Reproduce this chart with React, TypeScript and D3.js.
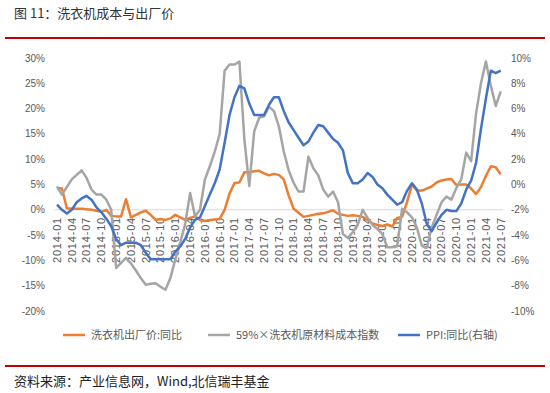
import React from "react";
import * as d3 from "d3";

const months: string[] = [
  "2014-01","2014-02","2014-03","2014-04","2014-05","2014-06","2014-07","2014-08","2014-09","2014-10","2014-11","2014-12",
  "2015-01","2015-02","2015-03","2015-04","2015-05","2015-06","2015-07","2015-08","2015-09","2015-10","2015-11","2015-12",
  "2016-01","2016-02","2016-03","2016-04","2016-05","2016-06","2016-07","2016-08","2016-09","2016-10","2016-11","2016-12",
  "2017-01","2017-02","2017-03","2017-04","2017-05","2017-06","2017-07","2017-08","2017-09","2017-10","2017-11","2017-12",
  "2018-01","2018-02","2018-03","2018-04","2018-05","2018-06","2018-07","2018-08","2018-09","2018-10","2018-11","2018-12",
  "2019-01","2019-02","2019-03","2019-04","2019-05","2019-06","2019-07","2019-08","2019-09","2019-10","2019-11","2019-12",
  "2020-01","2020-02","2020-03","2020-04","2020-05","2020-06","2020-07","2020-08","2020-09","2020-10","2020-11","2020-12",
  "2021-01","2021-02","2021-03","2021-04","2021-05","2021-06","2021-07"
];

// 洗衣机出厂价:同比 (left axis, %)
const washerPrice: number[] = [
  4.3, 4.2, 0.3, 0.2, 0.2, 0.2, 0.1, 0.0, -0.2, -0.4, 0.0, -1.2,
  -1.3, -1.3, 2.1, -1.5, -1.0, -0.5, -0.2, -1.0, -2.0, -1.8, -2.0, -1.7,
  -1.0, -1.5, -2.0, -1.6, -1.3, -2.0, -2.2, -2.0, -1.9, -1.8, 0.0, 3.2,
  5.3, 5.4, 7.4, 7.4, 7.6, 7.7, 7.2, 6.8, 7.1, 6.9, 6.0, 2.8,
  0.2, -0.6, -1.4, -1.2, -1.0, -0.8, -0.7, -0.4, -0.1, -0.8, -1.0, -1.2,
  -1.1, -1.2, -1.4, -2.0, -2.7, -3.0, -3.2, -2.9, -3.3, -1.6, -1.4, 1.5,
  5.0, 3.8, 3.8, 4.2, 4.6, 5.4, 5.8, 6.0, 6.1, 4.9, 5.0, 5.0,
  4.2, 3.1, 4.5, 6.7, 8.6, 8.4, 7.0
];

// 59%×洗衣机原材料成本指数 (left axis, %)
const rawCost: number[] = [
  4.6, 3.0, 4.5, 6.0, 6.9, 7.8, 6.3, 4.0, 3.0, 3.0, 2.0, 0.0,
  -11.5, -10.5, -9.5, -10.6, -12.0, -13.5, -14.8, -14.6, -14.5, -15.2, -15.8, -13.5,
  -9.8, -6.5, -2.8, 3.3, -1.3, 0.0, 6.0, 8.6, 11.5, 15.0, 27.5, 28.7,
  28.7, 29.3, 14.0, 4.7, 15.5, 18.2, 18.5, 20.4, 19.5, 16.5, 11.5, 7.8,
  5.3, 3.6, 3.6, 10.5, 8.2, 6.8, 4.0, 2.6, 3.6, 1.5, -4.8, -5.6,
  -4.4, -3.0, 0.0, -1.6, -3.0, -3.8, -4.8, -7.4, -7.4, -7.2, 0.2, -0.5,
  -1.5, -3.5, -7.1, -7.5, -3.5, -1.0, 1.5, 2.6, 2.0, 4.3, 6.0, 11.3,
  9.6, 19.0, 25.0, 29.3, 24.5, 20.5, 23.4
];

// PPI:同比 (right axis, %)
const ppi: number[] = [
  -1.6, -2.0, -2.3, -2.0, -1.4, -1.1, -0.9, -1.2, -1.8, -2.2, -2.7, -3.3,
  -4.3, -4.8, -4.6, -4.6, -4.6, -4.8, -5.4, -5.9, -5.9, -5.9, -5.9, -5.9,
  -5.3, -4.9, -4.3, -3.4, -2.8, -2.6, -1.7, -0.8, 0.1, 1.2, 3.3, 5.5,
  6.9, 7.8, 7.6, 6.4, 5.5, 5.5, 5.5, 6.3, 6.9, 6.9, 5.8, 4.9,
  4.3, 3.7, 3.1, 3.4, 4.1, 4.7, 4.6, 4.1, 3.6, 3.3, 2.7, 0.9,
  0.1, 0.1, 0.4, 0.9, 0.6, 0.0, -0.3, -0.8, -1.2, -1.6, -1.4, -0.5,
  0.1, -0.4, -1.5, -3.1, -3.7, -3.0, -2.4, -2.0, -2.1, -2.1, -1.5, -0.4,
  0.3, 1.7, 4.4, 6.8, 9.0, 8.8, 9.0
];

const leftTicks: number[] = [30, 25, 20, 15, 10, 5, 0, -5, -10, -15, -20];
const rightTicks: number[] = [10, 8, 6, 4, 2, 0, -2, -4, -6, -8, -10];
const tickMonths: string[] = months.filter((_, i) => i % 3 === 0);

const seriesNames: string[] = ["洗衣机出厂价:同比", "59%×洗衣机原材料成本指数", "PPI:同比(右轴)"];
const seriesColors: string[] = ["#ED7D31", "#A5A5A5", "#4472C4"];

const titleText = "图 11：洗衣机成本与出厂价";
const sourceText = "资料来源：产业信息网，Wind,北信瑞丰基金";

export default function App() {
  const W = 550, H = 393;
  const x = d3.scalePoint<string>().domain(months).range([57, 500.7]);
  const yL = d3.scaleLinear().domain([-20, 30]).range([311, 58]);
  const yR = d3.scaleLinear().domain([-10, 10]).range([311, 58]);

  const lineL = d3.line<number>().x((_, i) => x(months[i]) as number).y((d) => yL(d));
  const lineR = d3.line<number>().x((_, i) => x(months[i]) as number).y((d) => yR(d));

  const axisFont = "Liberation Sans, Arial, sans-serif";
  const cjkFont = "'Noto Sans CJK SC', sans-serif";
  const labelColor = "#595959";

  const legendItems = [
    { lx: 63, tx: 91 },
    { lx: 208, tx: 236 },
    { lx: 398, tx: 426 },
  ];

  return (
    <svg width={W} height={H} style={{ position: "absolute", left: 0, top: 0, background: "#fff" }}>
      <rect x={0} y={0} width={W} height={H} fill="#fff" />
      <text x={14} y={18} fontSize={13} fontFamily={cjkFont} fill="#333">{titleText}</text>
      <line x1={5} x2={545} y1={38} y2={38} stroke="#C00000" strokeWidth={2} />

      {/* zero line */}
      <line x1={54.5} x2={503} y1={yL(0)} y2={yL(0)} stroke="#D9D9D9" strokeWidth={1} />

      {leftTicks.map((t) => (
        <text key={"l" + t} x={45} y={yL(t)} dy="0.35em" textAnchor="end" fontSize={10} fontFamily={axisFont} fill={labelColor}>
          {t + "%"}
        </text>
      ))}
      {rightTicks.map((t) => (
        <text key={"r" + t} x={511} y={yR(t)} dy="0.35em" textAnchor="start" fontSize={10} fontFamily={axisFont} fill={labelColor}>
          {t + "%"}
        </text>
      ))}
      {tickMonths.map((m) => (
        <text key={m} transform={`translate(${x(m)},${217}) rotate(-90)`} dy="0.35em" textAnchor="end" fontSize={11} letterSpacing={0.8} fontFamily={axisFont} fill={labelColor}>
          {m}
        </text>
      ))}

      <path d={lineL(washerPrice) || ""} fill="none" stroke={seriesColors[0]} strokeWidth={2.5} strokeLinejoin="round" />
      <path d={lineL(rawCost) || ""} fill="none" stroke={seriesColors[1]} strokeWidth={2.5} strokeLinejoin="round" />
      <path d={lineR(ppi) || ""} fill="none" stroke={seriesColors[2]} strokeWidth={2.5} strokeLinejoin="round" />

      {seriesNames.map((n, i) => (
        <g key={n}>
          <line x1={legendItems[i].lx} x2={legendItems[i].lx + 22} y1={335} y2={335} stroke={seriesColors[i]} strokeWidth={2.5} />
          <text x={legendItems[i].tx} y={335} dy="0.35em" fontSize={11} fontFamily={cjkFont} fill={labelColor}>{n}</text>
        </g>
      ))}

      <line x1={5} x2={545} y1={366} y2={366} stroke="#C00000" strokeWidth={2} />
      <text x={14} y={386} fontSize={13} fontFamily={cjkFont} fill="#222">{sourceText}</text>
    </svg>
  );
}
